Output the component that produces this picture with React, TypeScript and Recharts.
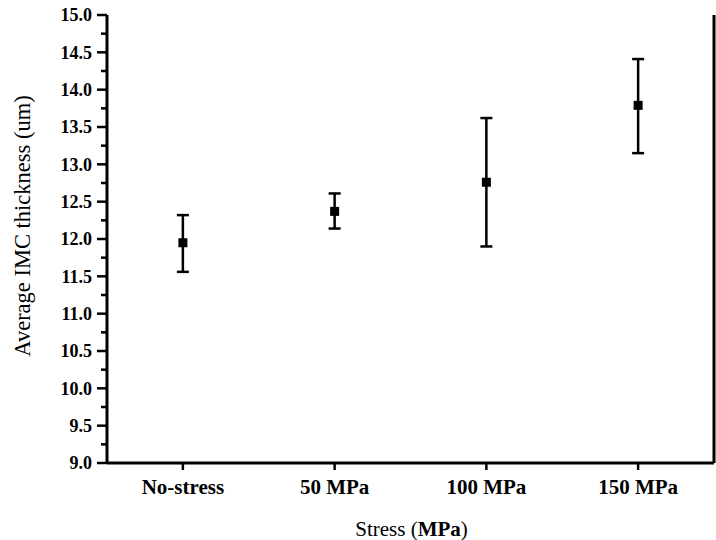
import React from "react";
import {
  ComposedChart,
  Line,
  XAxis,
  YAxis,
  ErrorBar,
  Label,
} from "recharts";

const categories = ["No-stress", "50 MPa", "100 MPa", "150 MPa"];
const means = [11.95, 12.37, 12.76, 13.79];
const lows = [11.56, 12.14, 11.9, 13.15];
const highs = [12.32, 12.61, 13.62, 14.41];
const yTicks = [
  9.0, 9.25, 9.5, 9.75, 10.0, 10.25, 10.5, 10.75, 11.0, 11.25, 11.5, 11.75,
  12.0, 12.25, 12.5, 12.75, 13.0, 13.25, 13.5, 13.75, 14.0, 14.25, 14.5,
  14.75, 15.0,
];

const data = categories.map((c, i) => ({
  name: c,
  mean: means[i],
  err: [means[i] - lows[i], highs[i] - means[i]],
}));

const FONT = "Liberation Serif, Tinos, Times New Roman, DejaVu Serif, serif";

const YTick = (props: any) => {
  const { x, y, payload } = props;
  const v = payload.value as number;
  const major = Math.abs(v * 2 - Math.round(v * 2)) < 1e-6;
  const axisX = x + 14;
  return (
    <g>
      <line
        x1={axisX - (major ? 10 : 6)}
        x2={axisX}
        y1={y}
        y2={y}
        stroke="#000"
        strokeWidth={2.5}
      />
      {major && (
        <text
          x={x - 1}
          y={y}
          dy="0.36em"
          textAnchor="end"
          style={{ fontFamily: FONT, fontWeight: "bold", fontSize: 18 }}
          fill="#000"
        >
          {v.toFixed(1)}
        </text>
      )}
    </g>
  );
};

const XTick = (props: any) => {
  const { x, y, payload } = props;
  return (
    <text
      x={x}
      y={y}
      dy="0.71em"
      textAnchor="middle"
      style={{ fontFamily: FONT, fontWeight: "bold", fontSize: 21 }}
      fill="#000"
    >
      {payload.value}
    </text>
  );
};

const Square = (props: any) => {
  const { cx, cy } = props;
  if (cx == null || cy == null) return null;
  return <rect x={cx - 4.5} y={cy - 4.5} width={9} height={9} fill="#000" />;
};

export default function App() {
  return (
    <div style={{ position: "absolute", left: 0, top: 0 }}>
      <ComposedChart
        width={716}
        height={540}
        data={data}
        margin={{ top: 15, right: 1, bottom: 0, left: 0 }}
      >
        <XAxis
          dataKey="name"
          type="category"
          scale="band"
          height={77}
          axisLine={{ stroke: "#000", strokeWidth: 3 }}
          tickLine={{ stroke: "#000", strokeWidth: 2.5 }}
          tickSize={7}
          tickMargin={9}
          tick={<XTick />}
        >
          <Label
            content={(p: any) => {
              const vb = p.viewBox;
              return (
                <text
                  x={vb.x + vb.width / 2 + 1}
                  y={536}
                  textAnchor="middle"
                  style={{ fontFamily: FONT, fontSize: 21 }}
                  fill="#000"
                >
                  Stress (<tspan style={{ fontWeight: "bold" }}>MPa</tspan>)
                </text>
              );
            }}
          />
        </XAxis>
        <XAxis
          xAxisId="top"
          orientation="top"
          dataKey="name"
          type="category"
          height={0}
          tick={false}
          tickLine={false}
          axisLine={{ stroke: "#000", strokeWidth: 3 }}
        />
        <YAxis
          type="number"
          domain={[9, 15]}
          ticks={yTicks}
          interval={0}
          width={107}
          axisLine={{ stroke: "#000", strokeWidth: 3 }}
          tickLine={false}
          tickSize={10}
          tickMargin={4}
          tick={<YTick />}
        >
          <Label
            content={() => {
              const cy = 226;
              const cx = 30;
              return (
                <text
                  x={cx}
                  y={cy}
                  transform={`rotate(-90 ${cx} ${cy})`}
                  textAnchor="middle"
                  style={{ fontFamily: FONT, fontSize: 22.5 }}
                  fill="#000"
                >
                  Average IMC thickness (um)
                </text>
              );
            }}
          />
        </YAxis>
        <YAxis
          yAxisId="right"
          orientation="right"
          width={1}
          domain={[9, 15]}
          tick={false}
          tickLine={false}
          axisLine={{ stroke: "#000", strokeWidth: 3 }}
        />
        <Line
          dataKey="mean"
          stroke="none"
          dot={<Square />}
          activeDot={false}
          isAnimationActive={false}
        >
          <ErrorBar
            dataKey="err"
            direction="y"
            width={6}
            stroke="#000"
            strokeWidth={2.5}
            isAnimationActive={false}
          />
        </Line>
      </ComposedChart>
    </div>
  );
}
